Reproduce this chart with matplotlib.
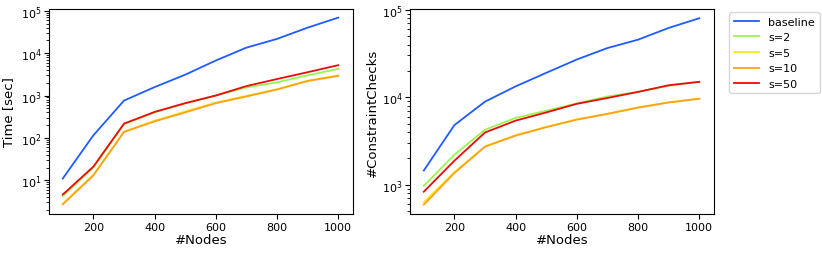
import matplotlib
matplotlib.use('Agg')
import matplotlib.pyplot as plt
import numpy as np

nodes = [100, 200, 300, 400, 500, 600, 700, 800, 900, 1000]
labels = ['baseline', 's=2', 's=5', 's=10', 's=50']
colors = ['#1f5cff', '#99f550', '#f5ee10', '#ffa020', '#ee0a0a']

# time [sec]
time_baseline = [11, 115, 760, 1580, 3100, 6700, 13500, 21700, 40000, 69000]
time_s2 = [4.2, 20, 210, 400, 650, 1000, 1550, 2050, 3000, 4250]
time_s5 = [2.8, 13.5, 140, 255, 420, 680, 980, 1400, 2250, 3000]
time_s10 = [2.7, 13, 138, 245, 400, 660, 950, 1390, 2200, 2900]
time_s50 = [4.6, 21, 217, 410, 660, 1000, 1670, 2450, 3550, 5200]

# constraint checks
cc_baseline = [1450, 4800, 8900, 13300, 19000, 27000, 36500, 45500, 62000, 80000]
cc_s2 = [970, 2200, 4250, 5800, 7000, 8500, 10200, 11500, 13500, 15000]
cc_s5 = [630, 1390, 2740, 3680, 4580, 5580, 6480, 7650, 8750, 9650]
cc_s10 = [590, 1360, 2720, 3640, 4540, 5540, 6440, 7600, 8700, 9600]
cc_s50 = [830, 1880, 3950, 5400, 6700, 8400, 9800, 11500, 13700, 15000]

time_series = [time_baseline, time_s2, time_s5, time_s10, time_s50]
cc_series = [cc_baseline, cc_s2, cc_s5, cc_s10, cc_s50]

plt.rcParams['font.size'] = 8

fig = plt.figure(figsize=(8.22, 2.55), dpi=100)
ax1 = fig.add_axes([49/822, 40/255, 304/822, 205/255])
ax2 = fig.add_axes([410/822, 40/255, 304/822, 205/255])

for ys, c, l in zip(time_series, colors, labels):
    ax1.plot(nodes, ys, color=c, label=l, lw=1.3)
for ys, c, l in zip(cc_series, colors, labels):
    ax2.plot(nodes, ys, color=c, label=l, lw=1.3)

ax1.set_yscale('log')
ax2.set_yscale('log')
ax1.set_ylim(1.6, 1.1e5)
ax2.set_ylim(462, 1.02e5)
for ax in (ax1, ax2):
    ax.set_xlim(55, 1048)
    ax.set_xticks([200, 400, 600, 800, 1000])
    ax.set_xlabel('#Nodes', fontsize=9.5, labelpad=1)
    ax.tick_params(labelsize=8, pad=2)
ax1.set_ylabel('Time [sec]', fontsize=9.5, labelpad=4)
ax2.set_ylabel('#ConstraintChecks', fontsize=9.5, labelpad=2)

ax2.legend(loc='upper left', bbox_to_anchor=(1.04, 1.0), fontsize=8,
           handlelength=2.3, borderaxespad=0.3)

fig.savefig('out.png', dpi=100)
